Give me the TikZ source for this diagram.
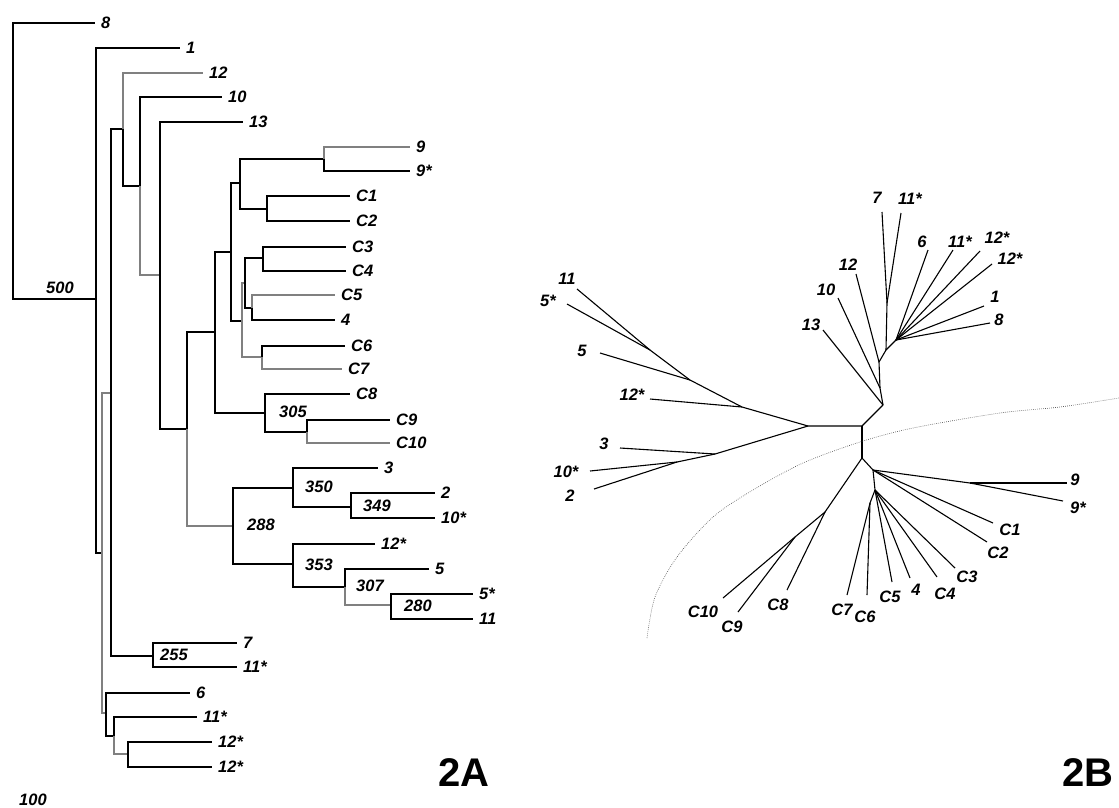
\documentclass[tikz,border=0pt]{standalone}
\usepackage{fontspec}
\setmainfont{Liberation Sans}
\newcommand\leaffont{\fontsize{16.5}{18}\selectfont\bfseries\itshape}
\newcommand\panelfont{\fontsize{40}{44}\selectfont\bfseries}
\tikzset{
  br/.style={draw=black,line width=1.7pt},
  gbr/.style={draw=black!50,line width=1.1pt},
  ub/.style={draw=black,line width=1.1pt},
  arc/.style={draw=black!70,line width=0.6pt,dash pattern=on 0.7pt off 1.3pt},
}
\tikzset{leaf/.style={anchor=west,inner xsep=6pt,inner ysep=2pt,font=\leaffont}, boot/.style={inner sep=0pt,font=\leaffont},tip/.style={inner sep=0pt,font=\leaffont},panel/.style={inner sep=0pt,font=\panelfont}}

\begin{document}
\begin{tikzpicture}[x=1pt,y=-1pt]
\useasboundingbox (0,0) rectangle (1119,807);
% 2A: rooted tree
\coordinate(r) at (13,160);\coordinate(a) at (96,299);\coordinate(b) at (102,553);\coordinate(c) at (111,393);
\coordinate(d) at (123,129);\coordinate(e) at (140,186);\coordinate(f) at (160,275);\coordinate(h) at (187,429);
\coordinate(i) at (215,332);\coordinate(j) at (231,252);\coordinate(k) at (240,183);\coordinate(m) at (242,321);
\coordinate(n9) at (324,159);\coordinate(nC12) at (267,209);\coordinate(n45) at (245,283);\coordinate(nC34) at (263,258);
\coordinate(nC54) at (252,308);\coordinate(n67) at (262,357);\coordinate(p305) at (265,413);\coordinate(nC910) at (307,432);
\coordinate(p288) at (233,526);\coordinate(p350) at (293,488);\coordinate(p349) at (351,507);\coordinate(p353) at (293,564);
\coordinate(p307) at (345,587);\coordinate(p280) at (391,605);\coordinate(p255) at (153,656);
\coordinate(g) at (106,713);\coordinate(q) at (114,736);\coordinate(s) at (128,754);
\node[leaf](l8) at (95,23){8};\node[leaf](l1) at (180,48){1};\node[leaf](l12) at (203,73){12};\node[leaf](l10) at (222,97){10};
\node[leaf](l13) at (243,122){13};\node[leaf](l9) at (410,147){9};\node[leaf](l9s) at (410,171){9*};
\node[leaf](lC1) at (350,196){C1};\node[leaf](lC2) at (350,221){C2};\node[leaf](lC3) at (346,247){C3};\node[leaf](lC4) at (346,271){C4};
\node[leaf](lC5) at (335,295){C5};\node[leaf](l4) at (335,320){4};\node[leaf](lC6) at (345,346){C6};\node[leaf](lC7) at (342,369){C7};
\node[leaf](lC8) at (350,394){C8};\node[leaf](lC9) at (390,420){C9};\node[leaf](lC10) at (390,443){C10};
\node[leaf](l3) at (378,468){3};\node[leaf](l2) at (435,493){2};\node[leaf](l10s) at (435,518){10*};
\node[leaf](l12s) at (375,544){12*};\node[leaf](l5) at (429,569){5};\node[leaf](l5s) at (473,594){5*};\node[leaf](l11) at (473,619){11};
\node[leaf](l7) at (237,643){7};\node[leaf](l11s) at (237,667){11*};\node[leaf](l6) at (190,693){6};
\node[leaf](l11t) at (197,717){11*};\node[leaf](l12t) at (212,742){12*};\node[leaf](l12u) at (212,767){12*};
\draw[br] (r) |- (l8);\draw[br] (r) |- (a);\draw[br] (a) |- (l1);\draw[br] (a) |- (b);
\draw[gbr] (b) |- (c);\draw[gbr] (b) |- (g);\draw[br] (c) |- (d);\draw[br] (c) |- (p255);
\draw[gbr] (d) |- (l12);\draw[br] (d) |- (e);\draw[br] (e) |- (l10);\draw[gbr] (e) |- (f);
\draw[br] (f) |- (l13);\draw[br] (f) |- (h);\draw[br] (h) |- (i);\draw[gbr] (h) |- (p288);
\draw[br] (i) |- (j);\draw[br] (i) |- (p305);\draw[br] (j) |- (k);\draw[br] (j) |- (m);
\draw[br] (k) |- (n9);\draw[br] (k) |- (nC12);\draw[gbr] (n9) |- (l9);\draw[br] (n9) |- (l9s);
\draw[br] (nC12) |- (lC1);\draw[br] (nC12) |- (lC2);\draw[gbr] (m) |- (n45);\draw[gbr] (m) |- (n67);
\draw[br] (n45) |- (nC34);\draw[br] (n45) |- (nC54);\draw[br] (nC34) |- (lC3);\draw[br] (nC34) |- (lC4);
\draw[gbr] (nC54) |- (lC5);\draw[br] (nC54) |- (l4);\draw[br] (n67) |- (lC6);\draw[gbr] (n67) |- (lC7);
\draw[br] (p305) |- (lC8);\draw[br] (p305) |- (nC910);\draw[br] (nC910) |- (lC9);\draw[gbr] (nC910) |- (lC10);
\draw[br] (p288) |- (p350);\draw[br] (p288) |- (p353);\draw[br] (p350) |- (l3);\draw[br] (p350) |- (p349);
\draw[br] (p349) |- (l2);\draw[br] (p349) |- (l10s);\draw[br] (p353) |- (l12s);\draw[br] (p353) |- (p307);
\draw[br] (p307) |- (l5);\draw[gbr] (p307) |- (p280);\draw[br] (p280) |- (l5s);\draw[br] (p280) |- (l11);
\draw[br] (p255) |- (l7);\draw[br] (p255) |- (l11s);\draw[br] (g) |- (l6);\draw[br] (g) |- (q);
\draw[br] (q) |- (l11t);\draw[gbr] (q) |- (s);\draw[br] (s) |- (l12t);\draw[br] (s) |- (l12u);
\node[boot](b500) at (60,288){500};\node[boot](b305) at (293,412){305};\node[boot](b350) at (319,487){350};
\node[boot](b349) at (377,506){349};\node[boot](b288) at (261,525){288};\node[boot](b353) at (319,565){353};
\node[boot](b307) at (370,586){307};\node[boot](b280) at (418,606){280};\node[boot](b255) at (174,655){255};
\node[boot](b100) at (33,800){100};
\node[panel](pA) at (464,773){2A};
% 2B: unrooted tree
\coordinate(A) at (808,426);\coordinate(B) at (862,426);\coordinate(C) at (883,405);\coordinate(D) at (862,458);
\coordinate(La) at (742,407);\coordinate(Lb) at (690,380);\coordinate(Lc) at (650,350);\coordinate(Ma) at (715,454);\coordinate(Mb) at (677,462);
\coordinate(Ua) at (880,388);\coordinate(Ub) at (879,362);\coordinate(Uc) at (886,350);\coordinate(Ud) at (887,303);\coordinate(F) at (896,340);
\coordinate(E) at (873,470);\coordinate(Nn) at (970,483);\coordinate(H) at (875,490);\coordinate(Hb) at (870,503);\coordinate(Ka) at (825,512);\coordinate(Kb) at (795,537);
\coordinate(t12s) at (650,399);\coordinate(t5) at (600,353);\coordinate(t11) at (577,289);\coordinate(t5s) at (567,304);
\coordinate(t3) at (620,448);\coordinate(t10s) at (590,471);\coordinate(t2) at (594,489);
\coordinate(t13) at (823,330);\coordinate(t10) at (838,298);\coordinate(t12) at (856,274);\coordinate(t7) at (882,212);\coordinate(t11a) at (901,213);
\coordinate(t6) at (928,250);\coordinate(t11b) at (953,250);\coordinate(t12a) at (980,251);\coordinate(t12b) at (992,264);\coordinate(t1) at (984,306);\coordinate(t8) at (990,323);
\coordinate(t9) at (1067,483);\coordinate(t9s) at (1063,501);\coordinate(tC1) at (993,523);\coordinate(tC2) at (987,542);
\coordinate(tC3) at (955,568);\coordinate(tC4) at (937,577);\coordinate(t4) at (910,578);\coordinate(tC5) at (892,582);\coordinate(tC6) at (867,595);\coordinate(tC7) at (847,595);
\coordinate(tC8) at (787,590);\coordinate(tC9) at (738,612);\coordinate(tC10) at (723,598);
\draw[ub] (A)--(B)--(C);\draw[ub] (B)--(D);
\draw[ub] (A)--(La)--(Lb)--(Lc);\draw[ub] (La)--(t12s);\draw[ub] (Lb)--(t5);\draw[ub] (Lc)--(t11);\draw[ub] (Lc)--(t5s);
\draw[ub] (A)--(Ma)--(Mb);\draw[ub] (Ma)--(t3);\draw[ub] (Mb)--(t10s);\draw[ub] (Mb)--(t2);
\draw[ub] (C)--(Ua)--(Ub)--(Uc)--(F);\draw[ub] (C)--(t13);\draw[ub] (Ua)--(t10);\draw[ub] (Ub)--(t12);
\draw[ub] (Uc)--(Ud);\draw[ub] (Ud)--(t7);\draw[ub] (Ud)--(t11a);
\draw[ub] (F)--(t6);\draw[ub] (F)--(t11b);\draw[ub] (F)--(t12a);\draw[ub] (F)--(t12b);\draw[ub] (F)--(t1);\draw[ub] (F)--(t8);
\draw[ub] (D)--(E)--(Nn);\draw[ub] (Nn)--(t9);\draw[ub] (Nn)--(t9s);\draw[ub] (E)--(tC1);\draw[ub] (E)--(tC2);
\draw[ub] (E)--(H)--(Hb);\draw[ub] (H)--(tC3);\draw[ub] (H)--(tC4);\draw[ub] (H)--(t4);\draw[ub] (H)--(tC5);\draw[ub] (Hb)--(tC6);\draw[ub] (Hb)--(tC7);
\draw[ub] (D)--(Ka)--(Kb);\draw[ub] (Ka)--(tC8);\draw[ub] (Kb)--(tC9);\draw[ub] (Kb)--(tC10);
\node[tip](x11) at (567,279){11};\node[tip](x5s) at (548,301){5*};\node[tip](x5) at (582,351){5};\node[tip](x12s) at (632,395){12*};
\node[tip](x3) at (604,444){3};\node[tip](x10s) at (566,472){10*};\node[tip](x2) at (570,496){2};
\node[tip](x13) at (811,325){13};\node[tip](x10) at (826,290){10};\node[tip](x12) at (848,265){12};\node[tip](x7) at (877,198){7};\node[tip](x11a) at (910,199){11*};
\node[tip](x6) at (922,242){6};\node[tip](x11b) at (960,242){11*};\node[tip](x12a) at (997,238){12*};\node[tip](x12b) at (1010,259){12*};\node[tip](x1) at (995,297){1};\node[tip](x8) at (999,320){8};
\node[tip](x9) at (1075,480){9};\node[tip](x9s) at (1078,508){9*};\node[tip](xC1) at (1010,530){C1};\node[tip](xC2) at (998,553){C2};
\node[tip](xC3) at (967,577){C3};\node[tip](xC4) at (945,594){C4};\node[tip](x4) at (916,590){4};\node[tip](xC5) at (890,597){C5};
\node[tip](xC6) at (865,617){C6};\node[tip](xC7) at (842,610){C7};\node[tip](xC8) at (778,605){C8};\node[tip](xC9) at (732,627){C9};\node[tip](xC10) at (703,612){C10};
\draw[arc] plot[smooth] coordinates {(647,638) (655,597) (677,557) (713,517) (753,490) (803,463) (860,442) (913,428) (1000,413) (1060,407) (1119,398)};
\node[panel](pB) at (1088,773){2B};
\end{tikzpicture}
\end{document}
